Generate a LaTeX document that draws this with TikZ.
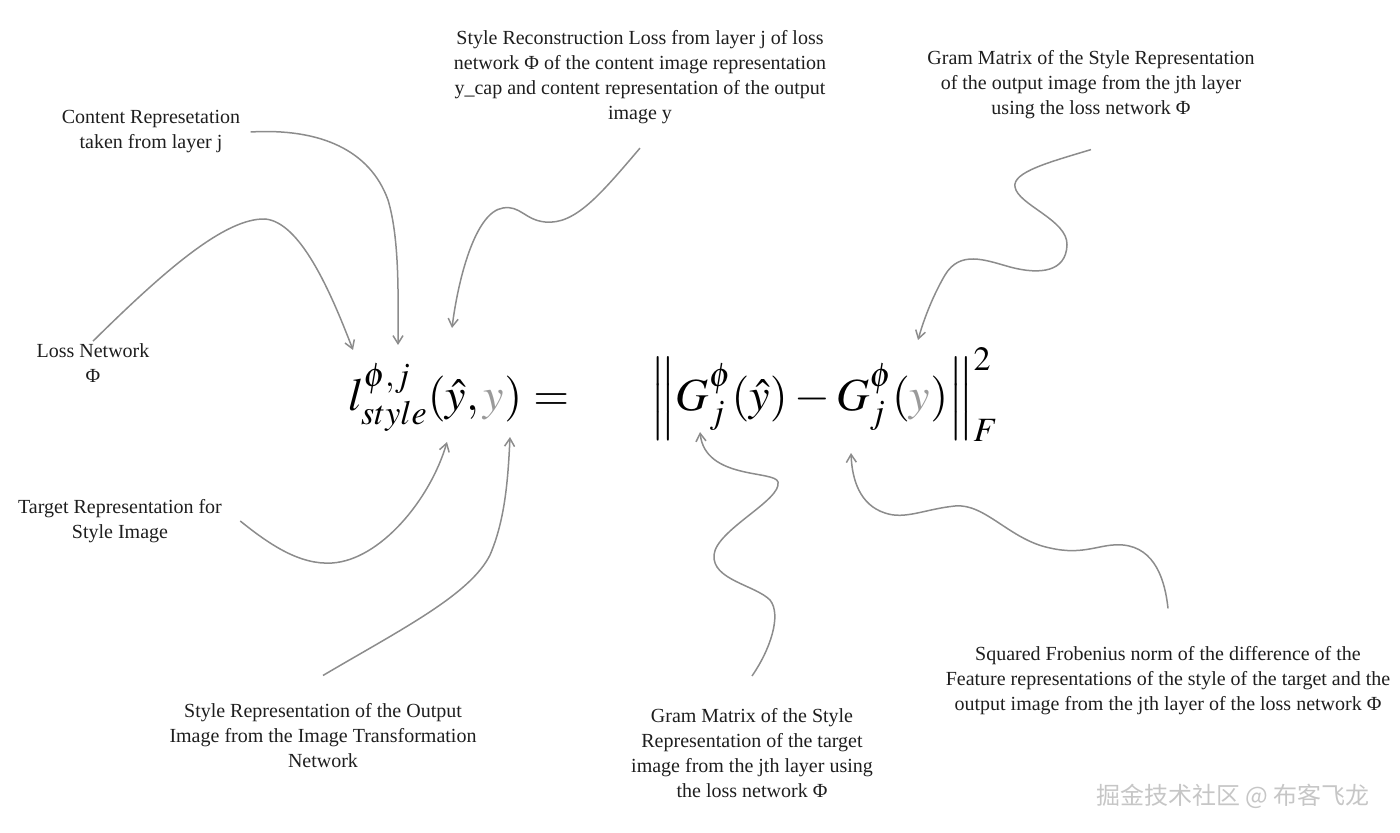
\documentclass[tikz,border=0pt]{standalone}
\usepackage{mathptmx}
\usepackage{fontspec}
\setmainfont{Liberation Serif}
\newfontfamily\cjkfont{Noto Sans CJK SC}
\usetikzlibrary{arrows.meta}
\definecolor{linegrey}{HTML}{8C8C8C}
\definecolor{ygrey}{HTML}{9A9A9A}
\definecolor{inkgrey}{HTML}{1E1E1E}

\begin{document}
\begin{tikzpicture}[
    x=0.5pt, y=-0.5pt,
    font=\fontsize{10}{12.5}\selectfont,
    note/.style={align=center, text=inkgrey, inner sep=1pt},
    eqn/.style={inner sep=0pt, anchor=base west, font=\fontsize{23}{28}\selectfont},
    arrow/.style={-{Straight Barb[length=4pt,width=5pt]}, line width=0.75pt, draw=linegrey},
]
\useasboundingbox (0,0) rectangle (1400,833);

% the loss formula
\node[eqn] (lhs) at (348,410) {$l^{\phi,j}_{style}(\hat{y},{\color{ygrey}y})$};
\node[eqn] (eqsign) at (533,410) {$=$};
\node[eqn] (rhs) at (650,410) {$\left\|G^{\phi}_{j}(\hat{y})-G^{\phi}_{j}({\color{ygrey}y})\right\|^{2}_{F}$};

% annotations
\node[note] (content) at (151,132) {Content Represetation\\taken from layer j};
\node[note] (lossnet) at (93,363) {Loss Network\\Φ};
\node[note] (recon) at (640,77) {Style Reconstruction Loss from layer j of loss\\network Φ of the content image representation\\y\_cap and content representation of the output\\image y};
\node[note] (gramout) at (1091,85) {Gram Matrix of the Style Representation\\of the output image from the jth layer\\using the loss network Φ};
\node[note] (target) at (120,521) {Target Representation for\\Style Image};
\node[note] (styleout) at (323,736) {Style Representation of the Output\\Image from the Image Transformation\\Network};
\node[note] (gramtgt) at (752,753) {Gram Matrix of the Style\\Representation of the target\\image from the jth layer using\\the loss network Φ};
\node[note] (frob) at (1168,681) {Squared Frobenius norm of the difference of the\\Feature representations of the style of the target and the\\output image from the jth layer of the loss network Φ};
\node[text=gray!45, font=\cjkfont\fontsize{12}{14}\selectfont] (watermark) at (1233,796) {掘金技术社区 @ 布客飞龙};

% arrow ends on the formula
\coordinate (lossTip) at (353,350);
\coordinate (contentTip) at (398,345);
\coordinate (reconTip) at (452,328);
\coordinate (gramoutTip) at (918,340);
\coordinate (targetTip) at (447,442);
\coordinate (styleoutTip) at (510,437);
\coordinate (gramtgtTip) at (700,432);
\coordinate (frobTip) at (851,453);

\draw[arrow] (lossnet.north) .. controls (165,270) and (225,218) .. (265,219) .. controls (300,222) and (330,290) .. (lossTip);
\draw[arrow] ([xshift=4pt]content.east) .. controls (320,128) and (370,150) .. (388,200) .. controls (400,240) and (398,300) .. (contentTip);
\draw[arrow] ([yshift=-11pt]recon.south) .. controls (600,195) and (575,225) .. (545,222) .. controls (525,220) and (520,205) .. (503,208) .. controls (475,212) and (458,280) .. (reconTip);
\draw[arrow] ([yshift=-14pt]gramout.south) .. controls (1050,162) and (1012,172) .. (1015,187) .. controls (1018,205) and (1068,220) .. (1067,245) .. controls (1066,272) and (1040,275) .. (1010,267) .. controls (985,260) and (960,250) .. (945,275) .. controls (935,292) and (925,315) .. (gramoutTip);
\draw[arrow] ([xshift=8pt]target.east) .. controls (270,545) and (300,565) .. (332,563) .. controls (380,560) and (430,500) .. (targetTip);
\draw[arrow] ([yshift=13pt]styleout.north) .. controls (400,630) and (470,595) .. (490,555) .. controls (505,520) and (508,480) .. (styleoutTip);
\draw[arrow] ([yshift=15pt]gramtgt.north) .. controls (770,650) and (782,615) .. (770,600) .. controls (755,585) and (712,580) .. (714,555) .. controls (716,530) and (782,500) .. (778,482) .. controls (775,470) and (705,480) .. (gramtgtTip);
\draw[arrow] ([yshift=18pt]frob.north) .. controls (1165,580) and (1155,548) .. (1123,545) .. controls (1100,543) and (1085,556) .. (1050,548) .. controls (1010,540) and (985,503) .. (955,506) .. controls (925,509) and (905,520) .. (885,513) .. controls (860,505) and (852,480) .. (frobTip);
\end{tikzpicture}
\end{document}
